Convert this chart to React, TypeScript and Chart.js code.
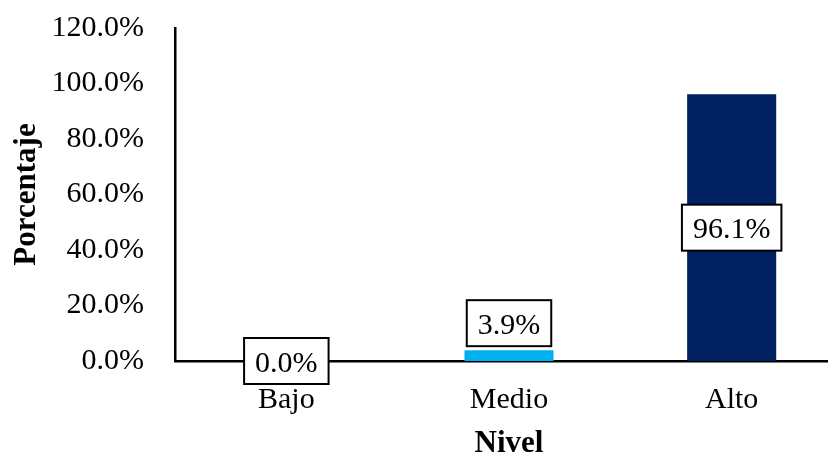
import React, { useEffect, useRef } from 'react';
import { Chart, registerables } from 'chart.js';

Chart.register(...registerables);

const categories = ['Bajo', 'Medio', 'Alto'];
const values = [0.0, 3.9, 96.1];
const barColors = ['#7F7F7F', '#00B0F0', '#002060'];
const labelAnchors = ['center', 'end', 'center'];
const yTicks = [0, 20, 40, 60, 80, 100, 120];
const yTitle = 'Porcentaje';
const xTitle = 'Nivel';

const FONT = "'Liberation Serif', 'Times New Roman', serif";

const labelPlugin = {
  id: 'boxLabels',
  afterDatasetsDraw(chart: any) {
    const ctx = chart.ctx;
    const meta = chart.getDatasetMeta(0);
    ctx.save();
    ctx.font = `30px ${FONT}`;
    meta.data.forEach((bar: any, i: number) => {
      const v = values[i];
      const text = v.toFixed(1) + '%';
      const tw = ctx.measureText(text).width;
      const w = tw + 22;
      const h = 46;
      const { x, y, base } = bar.getProps(['x', 'y', 'base'], true);
      const anchor = labelAnchors[i];
      const cy = anchor === 'end' ? y - 4 - h / 2 : (y + base) / 2;
      const left = x - w / 2;
      const top = cy - h / 2;
      ctx.fillStyle = '#ffffff';
      ctx.fillRect(left, top, w, h);
      ctx.lineWidth = 2;
      ctx.strokeStyle = '#000000';
      ctx.strokeRect(left, top, w, h);
      ctx.fillStyle = '#000000';
      ctx.textAlign = 'center';
      ctx.textBaseline = 'alphabetic';
      ctx.fillText(text, x, cy + 10.5);
    });
    ctx.restore();
  },
};

export default function App() {
  const canvasRef = useRef<HTMLCanvasElement | null>(null);

  useEffect(() => {
    if (!canvasRef.current) return;
    const chart = new Chart(canvasRef.current, {
      type: 'bar',
      data: {
        labels: categories,
        datasets: [
          {
            data: values,
            backgroundColor: barColors,
            barPercentage: 0.4,
            categoryPercentage: 1,
          },
        ],
      },
      options: {
        animation: false,
        responsive: true,
        maintainAspectRatio: false,
        layout: { padding: { top: 28, left: 0, right: 1, bottom: 0 } },
        plugins: {
          legend: { display: false },
          tooltip: { enabled: false },
        },
        scales: {
          x: {
            grid: { display: false, drawTicks: false },
            border: { display: true, color: '#000000', width: 2.5 },
            ticks: {
              font: { family: FONT, size: 30 },
              color: '#000000',
              padding: 21,
              maxRotation: 0,
            },
            title: {
              display: true,
              text: xTitle,
              font: { family: FONT, size: 31, weight: 'bold', lineHeight: 1 },
              color: '#000000',
              padding: { top: 0, bottom: -2 },
            },
            afterFit: (s: any) => {
              s.height = 96;
              s.paddingLeft = 0;
              s.paddingRight = 0;
            },
          },
          y: {
            min: 0,
            max: 120,
            afterBuildTicks: (s: any) => {
              s.ticks = yTicks.map((v) => ({ value: v }));
            },
            grid: { display: false, drawTicks: false },
            border: { display: true, color: '#000000', width: 2.5 },
            ticks: {
              font: { family: FONT, size: 30 },
              color: '#000000',
              padding: 31,
              callback: (v: any) => Number(v).toFixed(1) + '%',
            },
            title: {
              display: true,
              text: yTitle,
              font: { family: FONT, size: 31, weight: 'bold', lineHeight: 1 },
              color: '#000000',
              padding: { top: 11, bottom: 0 },
            },
            afterFit: (s: any) => {
              s.width = 175;
              s.paddingTop = 0;
              s.paddingBottom = 0;
            },
          },
        },
      },
      plugins: [labelPlugin],
    });
    return () => chart.destroy();
  }, []);

  return (
    <div
      style={{
        position: 'fixed',
        top: 0,
        left: 0,
        width: 828,
        height: 457,
        overflow: 'hidden',
        background: '#ffffff',
      }}
    >
      <div style={{ position: 'relative', width: 844, height: 457 }}>
        <canvas ref={canvasRef} />
      </div>
    </div>
  );
}
